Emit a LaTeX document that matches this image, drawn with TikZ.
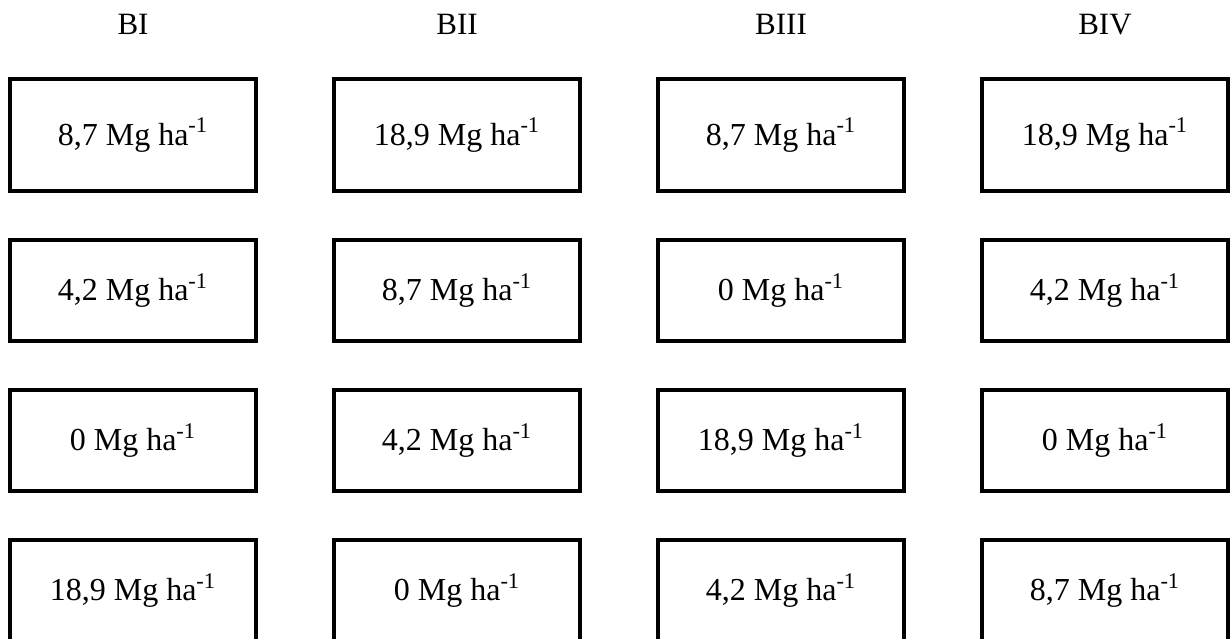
\documentclass[tikz,border=0pt]{standalone}
\usepackage{fontspec}
\setmainfont{Liberation Serif}
\usetikzlibrary{positioning}

\tikzset{
  plotbox/.style={draw, line width=2pt, minimum width=123pt, minimum height=50.5pt,
    inner sep=0pt, outer sep=0pt, font=\fontsize{16}{19}\selectfont},
  firstrow/.style={minimum height=56pt},
  blockname/.style={anchor=base, font=\fontsize{15.5}{18}\selectfont}
}

\begin{document}
\begin{tikzpicture}[x=0.5pt,y=-0.5pt]
  \path[use as bounding box] (0,0) rectangle (1231,638);
  \clip (0,0) rectangle (1231,638);

  \node(bi) [blockname] at (133,34) {BI};
  \node(bii) [blockname] at (457,34) {BII};
  \node(biii) [blockname] at (781,34) {BIII};
  \node(biv) [blockname] at (1105,34) {BIV};

  %--------------------------------------------------------------------
  \node(bi1) [plotbox, firstrow, anchor=north west] at (10,79) {8,7 Mg ha\textsuperscript{-1}};
  \node(bi2) [plotbox, below=24.5pt of bi1] {4,2 Mg ha\textsuperscript{-1}};
  \node(bi3) [plotbox, below=24.5pt of bi2] {0 Mg ha\textsuperscript{-1}};
  \node(bi4) [plotbox, below=24.5pt of bi3] {18,9 Mg ha\textsuperscript{-1}};

  %--------------------------------------------------------------------
  \node(bii1) [plotbox, firstrow, anchor=north west] at (334,79) {18,9 Mg ha\textsuperscript{-1}};
  \node(bii2) [plotbox, below=24.5pt of bii1] {8,7 Mg ha\textsuperscript{-1}};
  \node(bii3) [plotbox, below=24.5pt of bii2] {4,2 Mg ha\textsuperscript{-1}};
  \node(bii4) [plotbox, below=24.5pt of bii3] {0 Mg ha\textsuperscript{-1}};

  %--------------------------------------------------------------------
  \node(biii1) [plotbox, firstrow, anchor=north west] at (658,79) {8,7 Mg ha\textsuperscript{-1}};
  \node(biii2) [plotbox, below=24.5pt of biii1] {0 Mg ha\textsuperscript{-1}};
  \node(biii3) [plotbox, below=24.5pt of biii2] {18,9 Mg ha\textsuperscript{-1}};
  \node(biii4) [plotbox, below=24.5pt of biii3] {4,2 Mg ha\textsuperscript{-1}};

  %--------------------------------------------------------------------
  \node(biv1) [plotbox, firstrow, anchor=north west] at (982,79) {18,9 Mg ha\textsuperscript{-1}};
  \node(biv2) [plotbox, below=24.5pt of biv1] {4,2 Mg ha\textsuperscript{-1}};
  \node(biv3) [plotbox, below=24.5pt of biv2] {0 Mg ha\textsuperscript{-1}};
  \node(biv4) [plotbox, below=24.5pt of biv3] {8,7 Mg ha\textsuperscript{-1}};
\end{tikzpicture}
\end{document}
